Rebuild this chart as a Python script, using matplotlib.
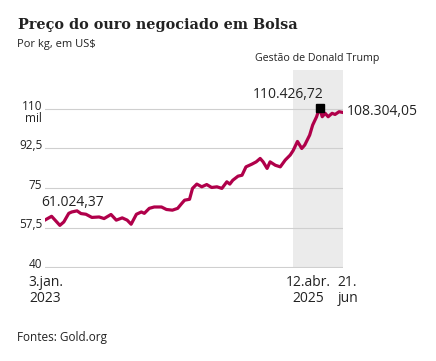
import numpy as np
import pandas as pd
import matplotlib
matplotlib.use("Agg")
import matplotlib.pyplot as plt
from matplotlib.transforms import ScaledTranslation, blended_transform_factory

# price of gold, thousand US$ per kg
dates = pd.to_datetime([
    "2023-01-03", "2023-01-21", "2023-02-15", "2023-02-27", "2023-03-14",
    "2023-03-23", "2023-04-08", "2023-04-20", "2023-05-05", "2023-05-23",
    "2023-06-14", "2023-06-29", "2023-07-20", "2023-08-05", "2023-08-23",
    "2023-09-07", "2023-09-19", "2023-10-05", "2023-10-20", "2023-10-29",
    "2023-11-13", "2023-11-28", "2023-12-20", "2024-01-04", "2024-01-22",
    "2024-02-07", "2024-02-19", "2024-02-28", "2024-03-14", "2024-03-23",
    "2024-04-05", "2024-04-20", "2024-05-05", "2024-05-20", "2024-06-05",
    "2024-06-20", "2024-07-05", "2024-07-14", "2024-07-23", "2024-08-08",
    "2024-08-20", "2024-09-01", "2024-09-19", "2024-10-02", "2024-10-14",
    "2024-10-23", "2024-11-04", "2024-11-13", "2024-11-29", "2024-12-14",
    "2024-12-29", "2025-01-13", "2025-01-22", "2025-02-04", "2025-02-17",
    "2025-02-26", "2025-03-13", "2025-03-22", "2025-04-03", "2025-04-12",
    "2025-04-20", "2025-04-29", "2025-05-08", "2025-05-20", "2025-05-29",
    "2025-06-10", "2025-06-21",
])
prices = [
    61.02, 62.5, 58.5, 60.0, 63.8,
    64.4, 64.9, 63.7, 63.4, 62.0,
    62.2, 61.5, 63.3, 60.8, 61.8,
    60.8, 59.0, 63.4, 64.4, 63.8,
    66.0, 66.6, 66.6, 65.5, 65.2,
    66.0, 68.1, 69.6, 70.0, 74.8,
    76.7, 75.5, 76.5, 75.2, 75.5,
    74.8, 77.7, 76.7, 78.4, 80.2,
    80.6, 84.3, 85.5, 86.5, 88.0,
    86.5, 83.6, 86.5, 85.0, 84.3,
    87.3, 89.5, 91.5, 95.5, 92.4,
    93.9, 98.3, 102.7, 106.4, 110.43,
    106.4, 107.9, 106.4, 107.9, 107.4,
    108.6, 108.30,
]

y_ticks = [40, 57.5, 75, 92.5, 110]
y_labels = ["40", "57,5", "75", "92,5", "110\nmil"]
x_ticks = pd.to_datetime(["2023-01-03", "2025-04-12", "2025-06-21"])
x_labels = ["3.jan.\n2023", "12.abr.\n2025", "21.\njun"]

trump_start = pd.Timestamp("2025-01-20")
trump_end = pd.Timestamp("2025-06-21")
peak_label = "110.426,72"
last_label = "108.304,05"
first_label = "61.024,37"

red = "#b0004a"
txt = "#222222"
sans = "Open Sans"

fig = plt.figure(figsize=(4.36, 3.61), dpi=100)
ax = fig.add_axes([45 / 436, 1 - 268 / 361, 298 / 436, 198 / 361])

ax.axvspan(trump_start, trump_end, color="#ebebeb", lw=0, zorder=0)
for v in y_ticks:
    ax.axhline(v, color="#cfcfcf", lw=0.8, zorder=1)

ax.plot(dates, prices, color=red, lw=2.3, solid_joinstyle="round", zorder=3)

imax = int(np.argmax(prices))
ax.plot(dates[imax], prices[imax], marker="s", ms=6, color="black", zorder=4)

ax.annotate(peak_label, (dates[imax], prices[imax]), xytext=(3, 4),
            textcoords="offset points", ha="right", va="bottom",
            fontsize=10, color=txt, family=sans)
ax.annotate(last_label, (dates[-1], prices[-1]), xytext=(3, 1),
            textcoords="offset points", ha="left", va="center",
            fontsize=10, color=txt, family=sans)
ax.annotate(first_label, (dates[0], prices[0]), xytext=(-3, 7),
            textcoords="offset points", ha="left", va="bottom",
            fontsize=10, color=txt, family=sans)

trans = blended_transform_factory(ax.transData, ax.transAxes)
mid = trump_start + (trump_end - trump_start) / 2
ax.text(mid, 1.03, "Gestão de Donald Trump", transform=trans,
        ha="center", va="bottom", fontsize=7.7, color=txt, family=sans)

ax.set_xlim(pd.Timestamp("2023-01-01"), pd.Timestamp("2025-06-22"))
ax.set_ylim(39.7, 127)

ax.set_yticks(y_ticks)
ax.set_yticklabels(y_labels, fontsize=8.5, color=txt, family=sans,
                   linespacing=0.9)
ax.set_xticks(x_ticks)
ax.set_xticklabels(x_labels, fontsize=10, color=txt, family=sans,
                   linespacing=1.1)
ax.tick_params(axis="y", length=0, pad=2)
ax.tick_params(axis="x", length=0, pad=5)

for lbl in ax.get_yticklabels():
    dy = -2 if "mil" in lbl.get_text() else 3
    lbl.set_multialignment("right")
    lbl.set_transform(lbl.get_transform() +
                      ScaledTranslation(0, dy / 72, fig.dpi_scale_trans))
x_shift = [0, -8, 4]
for lbl, dx in zip(ax.get_xticklabels(), x_shift):
    if "jun" in lbl.get_text():
        lbl.set_multialignment("left")
    lbl.set_transform(lbl.get_transform() +
                      ScaledTranslation(dx / 72, 0, fig.dpi_scale_trans))

for s in ax.spines.values():
    s.set_visible(False)

fig.text(18 / 436, 1 - 25 / 361, "Preço do ouro negociado em Bolsa",
         fontsize=10.4, fontweight="bold", family="DejaVu Serif", color=txt,
         va="center", ha="left")
fig.text(17 / 436, 1 - 45 / 361, "Por kg, em US$", fontsize=8,
         family=sans, color=txt, va="center", ha="left")
fig.text(17 / 436, 1 - 337 / 361, "Fontes: Gold.org", fontsize=8.5,
         family=sans, color=txt, va="center", ha="left")

fig.savefig("out.png", dpi=100)
